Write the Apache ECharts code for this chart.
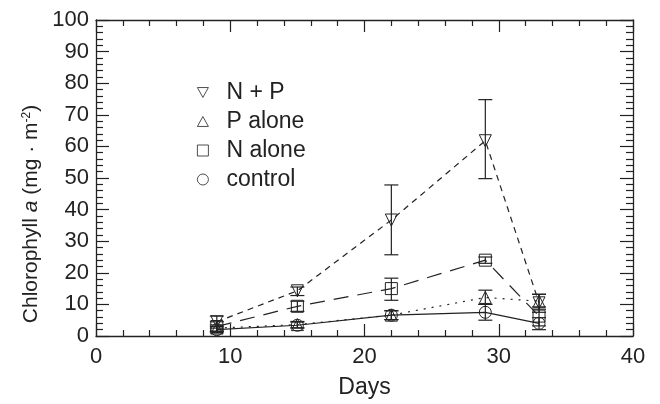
<!DOCTYPE html>
<html>
<head>
<meta charset="utf-8">
<script src="https://cdn.jsdelivr.net/npm/echarts@6/dist/echarts.min.js"></script>
<style>
  html, body { margin: 0; background: #fff; }
  #chart { width: 660px; height: 404px; }
</style>
</head>
<body>
<div id="chart"></div>
<script>
// sampling days
var days = [9, 15, 22, 29, 33];

// N + P
var npMean = [4.5, 14.3, 36.7, 61.8, 10.5];
var npLow = [2.5, 12.8, 25.7, 49.8, 7.5];
var npHigh = [6.3, 15.5, 47.8, 74.8, 13.2];
// P alone
var pMean = [2.5, 3.6, 6.6, 12.2, 11];
var pLow = [1.5, 2.6, 5.2, 10, 8.5];
var pHigh = [3.5, 4.6, 8, 14.5, 13.2];
// N alone
var nMean = [3, 9.4, 15, 24, 6.3];
var nLow = [1.5, 7.8, 11.3, 23, 3.2];
var nHigh = [4.5, 11, 18.3, 25, 9.2];
// control
var ctlMean = [2, 3.4, 6.6, 7.5, 4];
var ctlLow = [1, 2.5, 5.2, 5, 2];
var ctlHigh = [3, 4.4, 8, 10, 5.8];

var ink = '#222';
var invTri = 'path://M0,0 L10,0 L5,9 Z';
var upTri = 'path://M5,0 L10,9 L0,9 Z';

var myChart = echarts.init(document.getElementById('chart'));

function meanSeries(name, vals, symbol, dash) {
    return {
        name: name,
        type: 'line',
        data: days.map(function (d, i) { return [d, vals[i]]; }),
        symbol: symbol,
        symbolSize: 12,
        showAllSymbol: true,
        itemStyle: { color: 'transparent', borderColor: ink, borderWidth: 1 },
        lineStyle: { color: ink, width: 1.2, type: dash },
        z: 4
    };
}

function errorBars(low, high) {
    return {
        type: 'custom',
        data: days.map(function (d, i) { return [d, low[i], high[i]]; }),
        encode: { x: 0, y: [1, 2] },
        renderItem: function (params, api) {
            var top = api.coord([api.value(0), api.value(2)]);
            var bot = api.coord([api.value(0), api.value(1)]);
            var w = 7;
            var st = { stroke: ink, lineWidth: 1.2 };
            return {
                type: 'group',
                children: [
                    { type: 'line', shape: { x1: top[0], y1: top[1], x2: bot[0], y2: bot[1] }, style: st },
                    { type: 'line', shape: { x1: top[0] - w, y1: top[1], x2: top[0] + w, y2: top[1] }, style: st },
                    { type: 'line', shape: { x1: bot[0] - w, y1: bot[1], x2: bot[0] + w, y2: bot[1] }, style: st }
                ]
            };
        },
        z: 3
    };
}

function xAx(pos, labels) {
    return {
        type: 'value', position: pos, min: 0, max: 40, interval: 10,
        axisLine: { onZero: false, lineStyle: { color: ink, width: 1.3 } },
        axisTick: { inside: true, length: 12, lineStyle: { color: ink, width: 1.2 } },
        minorTick: { show: true, splitNumber: 5, length: 6, lineStyle: { color: ink, width: 1.2 } },
        splitLine: { show: false },
        axisLabel: { show: labels, fontSize: 22, color: ink, margin: 10, fontFamily: 'Liberation Sans' }
    };
}

function yAx(pos, labels) {
    return {
        type: 'value', position: pos, min: 0, max: 100, interval: 10,
        axisLine: { show: true, onZero: false, lineStyle: { color: ink, width: 1.3 } },
        axisTick: { show: true, inside: true, length: 13, lineStyle: { color: ink, width: 1.2 } },
        minorTick: { show: true, splitNumber: 5, length: 7, lineStyle: { color: ink, width: 1.2 } },
        splitLine: { show: false },
        axisLabel: { show: labels, fontSize: 22, color: ink, margin: 7, fontFamily: 'Liberation Sans' }
    };
}

var xBottom = xAx('bottom', true);
xBottom.name = 'Days';
xBottom.nameLocation = 'middle';
xBottom.nameGap = 40;
xBottom.nameTextStyle = { fontSize: 23, color: ink, fontFamily: 'Liberation Sans' };

var yLeft = yAx('left', true);
yLeft.name = 'Chlorophyll {i|a} (mg · m{sup|-2})';
yLeft.nameLocation = 'middle';
yLeft.nameGap = 54;
yLeft.nameTextStyle = {
    fontSize: 21, color: ink, fontFamily: 'Liberation Sans', padding: [0, 72, 0, 0],
    rich: {
        i: { fontSize: 21, fontStyle: 'italic', color: ink, fontFamily: 'Liberation Sans' },
        sup: { fontSize: 12, color: ink, fontFamily: 'Liberation Sans', verticalAlign: 'top' }
    }
};

var option = {
    animation: false,
    backgroundColor: '#fff',
    grid: { left: 96, right: 27, top: 20, bottom: 65 },
    xAxis: [xBottom, xAx('top', false)],
    yAxis: [yLeft, yAx('right', false)],
    legend: {
        orient: 'vertical', left: 192, top: 76,
        itemWidth: 11, itemHeight: 11, itemGap: 6,
        itemStyle: { borderWidth: 0.8 },
        textStyle: { fontSize: 23, color: ink, fontFamily: 'Liberation Sans', padding: [0, 0, 0, 13] },
        data: [
            { name: 'N + P', icon: invTri },
            { name: 'P alone', icon: upTri },
            { name: 'N alone', icon: 'rect' },
            { name: 'control', icon: 'circle' }
        ]
    },
    series: [
        errorBars(npLow, npHigh),
        errorBars(pLow, pHigh),
        errorBars(nLow, nHigh),
        errorBars(ctlLow, ctlHigh),
        meanSeries('N + P', npMean, invTri, [6, 5]),
        meanSeries('P alone', pMean, upTri, [2, 6]),
        meanSeries('N alone', nMean, 'rect', [15, 9]),
        meanSeries('control', ctlMean, 'circle', 'solid')
    ]
};
myChart.setOption(option);
</script>
</body>
</html>
